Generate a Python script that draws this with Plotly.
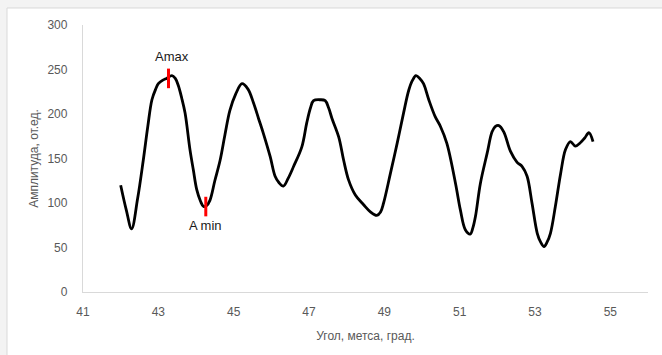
import plotly.graph_objects as go

angle = [42.0, 42.15, 42.29, 42.45, 42.6, 42.72, 42.83, 42.93, 43.0, 43.12, 43.22, 43.36, 43.45, 43.53,
         43.62, 43.71, 43.84, 43.93, 44.02, 44.12, 44.2, 44.28, 44.37, 44.5, 44.64, 44.77, 44.9, 45.05,
         45.22, 45.38, 45.53, 45.66, 45.79, 45.97, 46.1, 46.2, 46.32, 46.45, 46.59, 46.81, 46.94, 47.04,
         47.12, 47.3, 47.43, 47.52, 47.61, 47.79, 47.92, 48.05, 48.23, 48.45, 48.63, 48.8, 48.9, 48.98,
         49.16, 49.34, 49.51, 49.65, 49.75, 49.84, 49.94, 50.04, 50.18, 50.35, 50.49, 50.66, 50.89, 51.02,
         51.15, 51.28, 51.35, 51.42, 51.55, 51.73, 51.86, 51.95, 52.04, 52.17, 52.35, 52.52, 52.66, 52.79,
         52.92, 53.06, 53.15, 53.24, 53.32, 53.41, 53.54, 53.68, 53.81, 53.94, 54.07, 54.21, 54.32, 54.43,
         54.54]
amplitude = [120, 92, 71, 105, 148, 186, 216, 228, 234, 238, 240, 243, 240, 232,
             218, 201, 160, 137, 115, 102, 96, 97, 103, 125, 148, 177, 204, 222,
             234, 228, 212, 195, 178, 152, 130, 123, 119, 128, 141, 163, 190, 207,
             215, 216, 215, 207, 195, 174, 148, 126, 109, 98, 90, 86, 90, 100,
             133, 167, 201, 227, 238, 243, 240, 234, 216, 197, 186, 167, 122, 92,
             70, 65, 72, 85, 122, 156, 180, 186, 187, 180, 158, 146, 141, 130,
             100, 66, 56, 51, 56, 66, 96, 133, 160, 169, 164, 168, 173, 179,
             169]

x_ticks = [41, 43, 45, 47, 49, 51, 53, 55]
y_ticks = [0, 50, 100, 150, 200, 250, 300]

amax_x, amax_y = [43.27, 43.27], [229, 251]
amin_x, amin_y = [44.26, 44.26], [85, 107]

fig = go.Figure()
fig.add_trace(go.Scatter(x=angle, y=amplitude, mode="lines",
                         line=dict(color="black", width=2.8, shape="spline", smoothing=1.0),
                         showlegend=False, hoverinfo="skip"))
fig.add_trace(go.Scatter(x=amax_x, y=amax_y, mode="lines",
                         line=dict(color="#ff0000", width=3), showlegend=False))
fig.add_trace(go.Scatter(x=amin_x, y=amin_y, mode="lines",
                         line=dict(color="#ff0000", width=3), showlegend=False))

fig.add_annotation(x=43.35, y=265, text="Amax", showarrow=False,
                   font=dict(family="Liberation Sans, Arial", size=13, color="#1a1a1a"))
fig.add_annotation(x=44.25, y=75, text="A min", showarrow=False,
                   font=dict(family="Liberation Sans, Arial", size=13, color="#1a1a1a"))

# white chart area with light border over grey page
fig.add_shape(type="rect", xref="paper", yref="paper",
              x0=-0.1345, x1=1.05, y0=-0.3, y1=1.0637,
              fillcolor="white", line=dict(color="#d9d9d9", width=1), layer="below")

fig.update_layout(
    width=662, height=355,
    margin=dict(l=83, r=14, t=25, b=63),
    paper_bgcolor="#f3f3f3", plot_bgcolor="white",
    font=dict(family="Liberation Sans, Arial", color="#595959", size=12),
    xaxis=dict(range=[41, 56], tickvals=x_ticks, showgrid=False, zeroline=False,
               showline=True, linecolor="#d9d9d9", linewidth=1.3, ticks="",
               tickfont=dict(size=12, color="#595959"), ticklabelstandoff=8,
               title=dict(text="Угол, метса, град.", font=dict(size=12, color="#595959"), standoff=14)),
    yaxis=dict(range=[0, 300], tickvals=y_ticks, showgrid=False, zeroline=False,
               showline=True, linecolor="#d9d9d9", linewidth=1.3, ticks="",
               tickfont=dict(size=12, color="#595959"), ticklabelstandoff=12,
               title=dict(text="Амплитуда, от.ед.", font=dict(size=12, color="#595959"), standoff=6)),
)

fig.write_html("out.html")
